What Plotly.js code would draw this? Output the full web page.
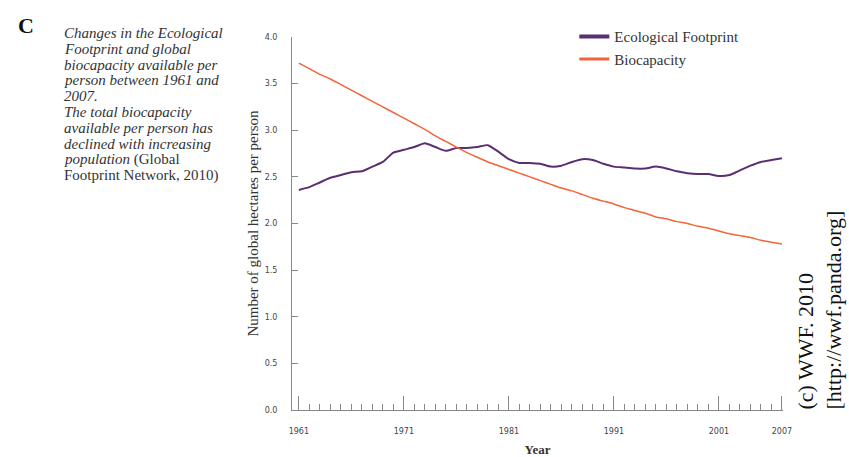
<!DOCTYPE html>
<html>
<head>
<meta charset="utf-8">
<script src="https://cdn.plot.ly/plotly-3.0.1.min.js"></script>
<style>html,body{margin:0;padding:0;background:#fff;}#chart{width:849px;height:457px;}</style>
</head>
<body>
<div id="chart"></div>
<script>
const years = [1961,1962,1963,1964,1965,1966,1967,1968,1969,1970,
  1971,1972,1973,1974,1975,1976,1977,1978,1979,1980,
  1981,1982,1983,1984,1985,1986,1987,1988,1989,1990,
  1991,1992,1993,1994,1995,1996,1997,1998,1999,2000,
  2001,2002,2003,2004,2005,2006,2007];
const footprint = [2.36,2.39,2.44,2.49,2.52,2.55,2.56,2.61,2.66,2.76,
  2.79,2.82,2.86,2.82,2.78,2.81,2.81,2.82,2.84,2.77,
  2.69,2.65,2.65,2.64,2.61,2.62,2.66,2.69,2.68,2.64,
  2.61,2.60,2.59,2.59,2.61,2.59,2.56,2.54,2.53,2.53,
  2.51,2.52,2.57,2.62,2.66,2.68,2.70];
const biocapacity = [3.72,3.66,3.60,3.55,3.49,3.43,3.37,3.31,3.25,3.19,
  3.13,3.07,3.01,2.94,2.88,2.82,2.76,2.71,2.66,2.62,
  2.58,2.54,2.50,2.46,2.42,2.38,2.35,2.31,2.27,2.24,
  2.21,2.17,2.14,2.11,2.07,2.05,2.02,2.00,1.97,1.95,
  1.92,1.89,1.87,1.85,1.82,1.80,1.78];
const xTickVals = [1961,1971,1981,1991,2001,2007];
const yTickVals = [0,0.5,1,1.5,2,2.5,3,3.5,4];
const yTickText = ['0.0','0.5','1.0','1.5','2.0','2.5','3.0','3.5','4.0'];
const seriesNames = ['Ecological Footprint','Biocapacity'];
const captionLines = [
  '<i>Changes in the Ecological</i>',
  '<i>Footprint and global</i>',
  '<i>biocapacity available per</i>',
  '<i>person between 1961 and</i>',
  '<i>2007.</i>',
  '<i>The total biocapacity</i>',
  '<i>available per person has</i>',
  '<i>declined with increasing</i>',
  '<i>population</i> (Global',
  'Footprint Network, 2010)'
];
const sourceText = '(c) WWF. 2010<br>[http://wwf.panda.org]';

const purple = '#5a2f72', orange = '#f2643a';
const serif = 'Liberation Serif';
const traces = [
  {x: years, y: footprint, mode:'lines', line:{color:purple, width:2, shape:'spline', smoothing:0.6}, showlegend:false, hoverinfo:'skip'},
  {x: years, y: biocapacity, mode:'lines', line:{color:orange, width:1.5, shape:'spline', smoothing:0.6}, showlegend:false, hoverinfo:'skip'},
  {x:[null], y:[null], mode:'lines', name:seriesNames[0], line:{color:purple, width:4}},
  {x:[null], y:[null], mode:'lines', name:seriesNames[1], line:{color:orange, width:3}}
];

// plot area in pixels: x 292..783, y 37..410
const toPaperY = px => (410 - px) / 373;
const toPaperX = px => (px - 292) / 491;

const annotations = [
  {text:'C', xref:'paper', yref:'paper', x:toPaperX(26), y:toPaperY(26), xanchor:'center', yanchor:'middle', showarrow:false,
    font:{family:serif, size:22, weight:'bold', color:'#111'}},
  {text:sourceText, xref:'paper', yref:'paper', x:toPaperX(819), y:toPaperY(412), xanchor:'center', yanchor:'bottom',
    textangle:-90, align:'left', showarrow:false, font:{family:serif, size:22, color:'#111'}}
];
captionLines.forEach((t, i) => {
  annotations.push({text:t, xref:'paper', yref:'paper', x:toPaperX(62), y:toPaperY(33 + i*15.8),
    xanchor:'left', yanchor:'middle', align:'left', showarrow:false,
    font:{family:serif, size:15, color:'#333'}});
});

const layout = {
  width:849, height:457,
  margin:{l:292, r:66, t:37, b:47},
  paper_bgcolor:'#fff', plot_bgcolor:'#fff',
  showlegend:true,
  legend:{x:0.575, y:1.045, xanchor:'left', yanchor:'top', bgcolor:'rgba(0,0,0,0)',
    font:{family:serif, size:15, color:'#333'}, tracegroupgap:0},
  xaxis:{range:[1960.35, 2007.1], tickmode:'array', tickvals:xTickVals,
    ticks:'inside', ticklen:14, tickcolor:'#888', showline:true, linecolor:'#888', linewidth:1,
    showgrid:false, zeroline:false, ticklabelstandoff:13,
    tickfont:{family:'DejaVu Sans', size:8, color:'#444'},
    minor:{tickmode:'linear', tick0:1961, dtick:1, ticks:'inside', ticklen:6, tickcolor:'#888', showgrid:false},
    title:{text:'Year', font:{family:serif, size:13, weight:'bold', color:'#333'}, standoff:10}},
  yaxis:{range:[0,4], tickmode:'array', tickvals:yTickVals, ticktext:yTickText,
    ticks:'inside', ticklen:6, tickcolor:'#888', showline:true, linecolor:'#888', linewidth:1,
    showgrid:false, zeroline:false, ticklabelstandoff:12,
    tickfont:{family:'DejaVu Sans', size:8, color:'#444'},
    title:{text:'Number of global hectares per person', font:{family:serif, size:15, color:'#333'}, standoff:2}},
  annotations: annotations
};
Plotly.newPlot('chart', traces, layout, {staticPlot:true, displayModeBar:false});
</script>
</body>
</html>
